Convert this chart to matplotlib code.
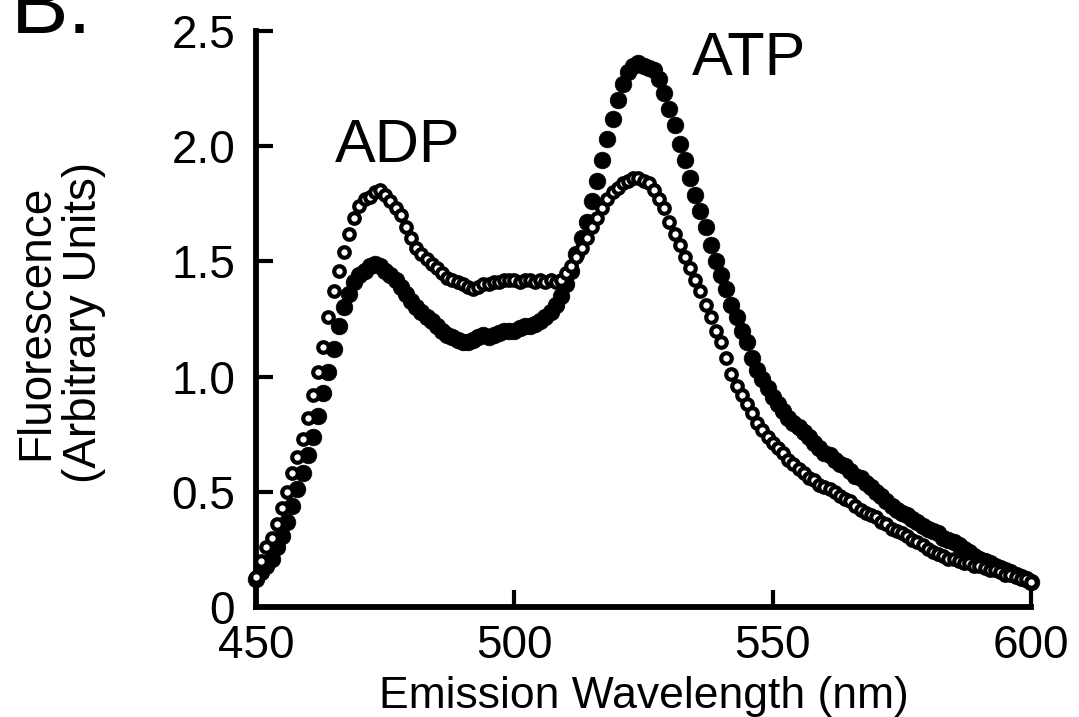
import matplotlib.pyplot as plt

plt.rcParams["font.family"] = ["Liberation Sans", "DejaVu Sans"]

# emission wavelength, 1 nm steps (450..600)
wavelength = list(range(450, 601))

# filled circles
fluor_filled = [
    0.12, 0.15, 0.18, 0.21, 0.26, 0.31, 0.37, 0.44, 0.51, 0.58,   # 450-459
    0.66, 0.74, 0.83, 0.93, 1.02, 1.12, 1.22, 1.30, 1.36, 1.41,   # 460-469
    1.44, 1.46, 1.48, 1.49, 1.48, 1.46, 1.44, 1.42, 1.39, 1.36,   # 470-479
    1.33, 1.30, 1.28, 1.26, 1.24, 1.22, 1.20, 1.18, 1.17, 1.16,   # 480-489
    1.15, 1.15, 1.16, 1.17, 1.18, 1.17, 1.18, 1.19, 1.20, 1.20,   # 490-499
    1.20, 1.21, 1.22, 1.22, 1.23, 1.24, 1.26, 1.28, 1.31, 1.35,   # 500-509
    1.40, 1.46, 1.53, 1.60, 1.67, 1.76, 1.85, 1.94, 2.03, 2.12,   # 510-519
    2.20, 2.27, 2.32, 2.35, 2.36, 2.35, 2.34, 2.33, 2.29, 2.23,   # 520-529
    2.16, 2.09, 2.01, 1.94, 1.86, 1.79, 1.72, 1.65, 1.57, 1.50,   # 530-539
    1.44, 1.38, 1.31, 1.26, 1.20, 1.15, 1.08, 1.03, 0.99, 0.95,   # 540-549
    0.91, 0.88, 0.85, 0.82, 0.80, 0.78, 0.76, 0.74, 0.71, 0.69,   # 550-559
    0.67, 0.66, 0.64, 0.62, 0.61, 0.59, 0.57, 0.56, 0.54, 0.52,   # 560-569
    0.50, 0.48, 0.46, 0.44, 0.42, 0.41, 0.40, 0.38, 0.37, 0.35,   # 570-579
    0.34, 0.33, 0.32, 0.30, 0.29, 0.28, 0.27, 0.25, 0.24, 0.22,   # 580-589
    0.21, 0.20, 0.19, 0.18, 0.17, 0.16, 0.15, 0.14, 0.13, 0.12,   # 590-599
    0.11,                                                         # 600
]

# open circles
fluor_open = [
    0.13, 0.20, 0.26, 0.30, 0.36, 0.43, 0.50, 0.58, 0.65, 0.73,   # 450-459
    0.82, 0.92, 1.02, 1.13, 1.26, 1.37, 1.46, 1.54, 1.62, 1.69,   # 460-469
    1.74, 1.77, 1.78, 1.80, 1.81, 1.79, 1.76, 1.73, 1.70, 1.65,   # 470-479
    1.60, 1.56, 1.53, 1.51, 1.49, 1.47, 1.45, 1.43, 1.42, 1.41,   # 480-489
    1.40, 1.39, 1.38, 1.39, 1.40, 1.40, 1.41, 1.41, 1.42, 1.42,   # 490-499
    1.42, 1.41, 1.42, 1.42, 1.41, 1.42, 1.41, 1.42, 1.41, 1.42,   # 500-509
    1.45, 1.48, 1.52, 1.56, 1.60, 1.65, 1.69, 1.73, 1.77, 1.80,   # 510-519
    1.82, 1.84, 1.85, 1.86, 1.86, 1.85, 1.84, 1.81, 1.77, 1.73,   # 520-529
    1.67, 1.62, 1.57, 1.52, 1.47, 1.42, 1.37, 1.31, 1.26, 1.20,   # 530-539
    1.15, 1.08, 1.01, 0.96, 0.92, 0.88, 0.84, 0.80, 0.77, 0.74,   # 540-549
    0.71, 0.69, 0.67, 0.64, 0.62, 0.60, 0.58, 0.56, 0.55, 0.53,   # 550-559
    0.52, 0.51, 0.50, 0.48, 0.47, 0.46, 0.44, 0.42, 0.41, 0.40,   # 560-569
    0.39, 0.37, 0.36, 0.34, 0.33, 0.32, 0.31, 0.29, 0.28, 0.27,   # 570-579
    0.25, 0.24, 0.23, 0.22, 0.21, 0.21, 0.20, 0.19, 0.19, 0.18,   # 580-589
    0.18, 0.17, 0.16, 0.16, 0.15, 0.14, 0.14, 0.13, 0.12, 0.12,   # 590-599
    0.11,                                                         # 600
]

x_ticks = [450, 500, 550, 600]
y_ticks = [0, 0.5, 1.0, 1.5, 2.0, 2.5]
y_ticklabels = ["0", "0.5", "1.0", "1.5", "2.0", "2.5"]

fig = plt.figure(figsize=(10.79, 7.17), dpi=100)
ax = fig.add_axes([256 / 1079, 1 - 607 / 717, 775 / 1079, 576 / 717])

ax.plot(wavelength, fluor_filled, linestyle="none", marker="o", markersize=12,
        markerfacecolor="black", markeredgecolor="black", markeredgewidth=0.5,
        clip_on=False, zorder=3)
ax.plot(wavelength, fluor_open, linestyle="none", marker="o", markersize=7.6,
        markerfacecolor="white", markeredgecolor="black", markeredgewidth=3,
        clip_on=False, zorder=4)

ax.set_xlim(450, 600)
ax.set_ylim(0, 2.5)
ax.set_xticks(x_ticks)
ax.set_yticks(y_ticks)
ax.set_yticklabels(y_ticklabels)

for side in ["top", "right"]:
    ax.spines[side].set_visible(False)
for side in ["left", "bottom"]:
    ax.spines[side].set_linewidth(4.2)
ax.tick_params(direction="in", length=12, width=3, labelsize=33, pad=12)
ax.tick_params(axis="y", pad=15)

ax.set_xlabel("Emission Wavelength (nm)", fontsize=32, labelpad=6)
fig.text(60 / 1079, 1 - 322 / 717, "Fluorescence\n(Arbitrary Units)", rotation=90,
         ha="center", va="center", multialignment="center", fontsize=33,
         linespacing=1.1)

ax.text(465.3, 1.93, "ADP", fontsize=44, ha="left", va="baseline")
ax.text(534.4, 2.31, "ATP", fontsize=44, ha="left", va="baseline")

fig.text(11 / 1079, 1 - 33 / 717, "B.", fontsize=62, ha="left", va="baseline")

fig.savefig("out.png", dpi=100)
